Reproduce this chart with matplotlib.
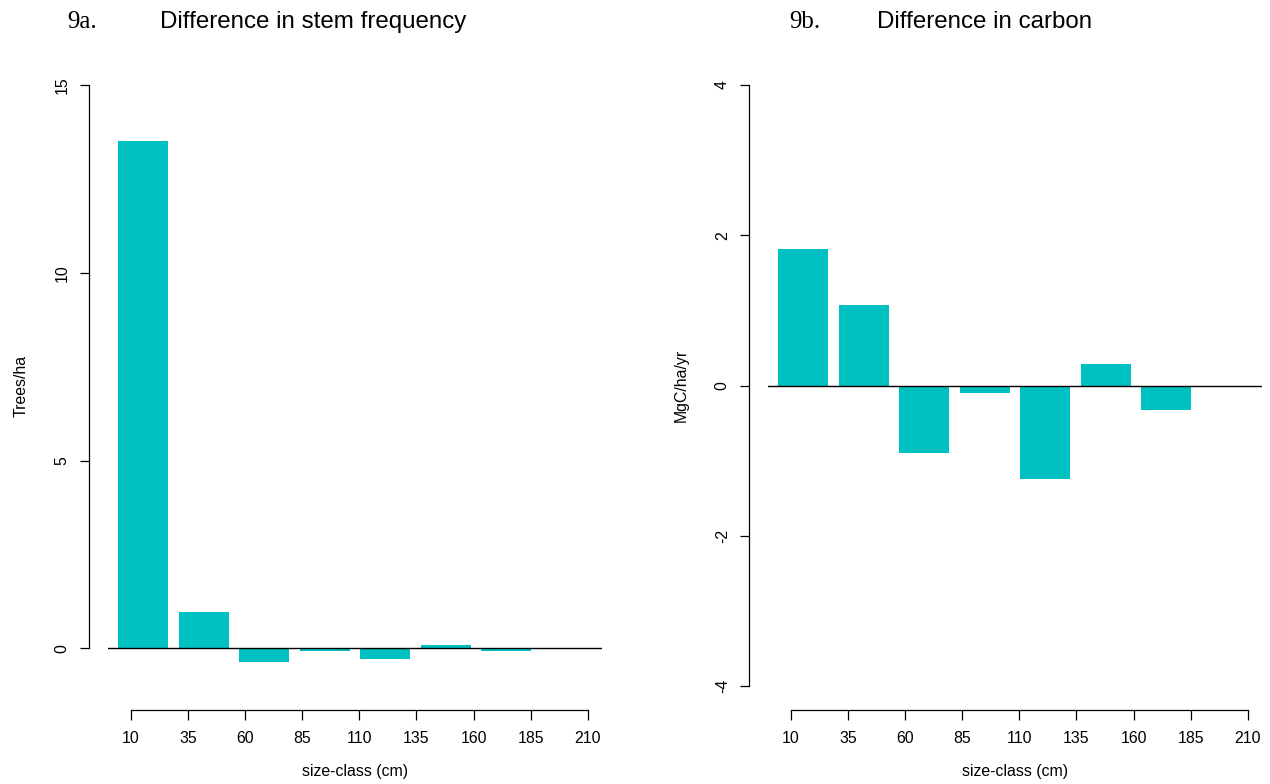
import numpy as np
import matplotlib.pyplot as plt

# size-class ticks (cm) and per-class differences
size_ticks = [10, 35, 60, 85, 110, 135, 160, 185, 210]
stem_diff = [13.5, 0.96, -0.36, -0.07, -0.27, 0.08, -0.06, 0.0]
carbon_diff = [1.82, 1.07, -0.90, -0.10, -1.24, 0.28, -0.33, -0.005]

BAR_COLOR = '#00C1C1'
FS = 11.4
plt.rcParams['font.family'] = ['Liberation Sans', 'DejaVu Sans']


def r_barplot(ax, values, ylim, yticks, ylabel):
    """Mimic an R barplot: width 1, space 0.2, bars without border."""
    n = len(values)
    lefts = 0.2 + 1.2 * np.arange(n)
    ax.bar(lefts, values, width=1.0, align='edge', color=BAR_COLOR,
           edgecolor='none', zorder=2)
    ax.axhline(0, color='black', lw=1.0, zorder=3)
    ax.set_xlim(0, 1.2 * n + 0.2)
    ax.set_ylim(*ylim)

    for s in ['top', 'right', 'bottom']:
        ax.spines[s].set_visible(False)
    ax.spines['left'].set_position(('outward', 14))
    ax.spines['left'].set_bounds(yticks[0], yticks[-1])
    ax.spines['left'].set_linewidth(0.9)
    ax.set_yticks(yticks)
    ax.set_yticklabels([str(t) for t in yticks])
    ax.tick_params(axis='y', labelrotation=90, length=6.5, width=0.9,
                   pad=7, labelsize=FS)
    for lab in ax.get_yticklabels():
        lab.set_va('center')
    ax.set_xticks([])
    ax.set_ylabel(ylabel, fontsize=FS, labelpad=19)

    # separate size-class axis underneath
    ax2 = ax.twiny()
    ax2.set_xlim(0, 216.2)
    ax2.xaxis.set_ticks_position('bottom')
    ax2.xaxis.set_label_position('bottom')
    for s in ['top', 'right', 'left']:
        ax2.spines[s].set_visible(False)
    ax2.spines['bottom'].set_bounds(size_ticks[0], size_ticks[-1])
    ax2.spines['bottom'].set_linewidth(0.9)
    ax2.set_xticks(size_ticks)
    ax2.set_xticklabels([str(t) for t in size_ticks])
    ax2.tick_params(axis='x', length=7, width=0.9, pad=8, labelsize=FS)
    ax2.set_xlabel('size-class (cm)', fontsize=FS, labelpad=13)
    return ax


fig = plt.figure(figsize=(12.7, 7.84), dpi=100)
ax_a = fig.add_axes([108 / 1270, 74 / 784, 494 / 1270, 649 / 784])
ax_b = fig.add_axes([768 / 1270, 74 / 784, 494 / 1270, 649 / 784])

r_barplot(ax_a, stem_diff, (-1.64, 15.64), [0, 5, 10, 15], 'Trees/ha')
r_barplot(ax_b, carbon_diff, (-4.32, 4.32), [-4, -2, 0, 2, 4], 'MgC/ha/yr')

fig.text(67 / 1270, 1 - 28 / 784, '9a.', family='Liberation Serif',
         fontsize=18, va='baseline', ha='left')
fig.text(160 / 1270, 1 - 28 / 784, 'Difference in stem frequency',
         fontsize=17.4, va='baseline', ha='left')
fig.text(789 / 1270, 1 - 28 / 784, '9b.', family='Liberation Serif',
         fontsize=18, va='baseline', ha='left')
fig.text(877 / 1270, 1 - 28 / 784, 'Difference in carbon',
         fontsize=17.4, va='baseline', ha='left')

fig.savefig('out.png', dpi=100)
